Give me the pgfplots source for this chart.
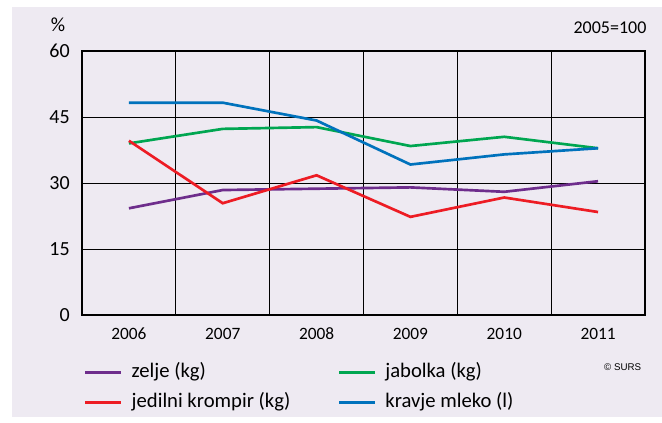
\documentclass[border=0pt]{standalone}
\usepackage{pgfplots}
\pgfplotsset{compat=1.18}
\usepackage{fontspec}
\setmainfont{Carlito}
\newfontfamily\arialf{Liberation Sans}
\definecolor{bgc}{RGB}{238,234,242}
\definecolor{czelje}{RGB}{110,45,140}
\definecolor{cjab}{RGB}{0,166,81}
\definecolor{ckrom}{RGB}{237,28,36}
\definecolor{cmleko}{RGB}{0,114,188}
\begin{document}
\begin{tikzpicture}
\path[use as bounding box, fill=white] (0pt,0pt) rectangle (496.5pt,317.25pt);
\fill[bgc] (9pt,4.5pt) rectangle (496.5pt,312pt);
\begin{axis}[
  at={(61.5pt,81pt)}, anchor=south west,
  scale only axis, width=422.25pt, height=198pt,
  xmin=2005.5, xmax=2011.5, ymin=0, ymax=60,
  xtick={2006,2007,2008,2009,2010,2011},
  ytick={0,15,30,45,60},
  minor xtick={2006.5,2007.5,2008.5,2009.5,2010.5},
  xminorgrids=true, ymajorgrids=true, xmajorgrids=false,
  major tick length=0pt, minor tick length=0pt,
  grid style={black, line width=0.7pt},
  minor grid style={black, line width=0.7pt},
  axis line style={line width=1pt},
  /pgf/number format/assume math mode=true,
  /pgf/number format/1000 sep={},
  xticklabel style={font=\fontsize{13}{15}\selectfont, inner sep=0pt, anchor=north, yshift=-9.4pt},
  yticklabel style={font=\fontsize{15}{17}\selectfont, inner sep=0pt, anchor=east, xshift=-9pt},
  legend columns=2,
  legend cell align=left,
  legend image code/.code={\draw[#1] (0pt,0pt) -- (27pt,0pt);},
  legend style={at={(0.0036,-0.18)}, anchor=north west, draw=none, fill=none,
    inner sep=0pt, outer sep=0pt, row sep=8pt,
    font=\fontsize{15.5}{17}\selectfont,
    nodes={inner sep=0pt, text height=11pt, text depth=3.5pt},
    /tikz/every odd column/.append style={column sep=6.75pt}},
  every axis plot/.append style={line width=2pt},
]
\addplot[czelje] coordinates {(2006,24.25) (2007,28.4) (2008,28.7) (2009,29.0) (2010,28.0) (2011,30.4)};
\addlegendentry{\makebox[154.5pt][l]{zelje (kg)}}
\addplot[cjab] coordinates {(2006,39.0) (2007,42.3) (2008,42.7) (2009,38.4) (2010,40.5) (2011,37.9)};
\addlegendentry{jabolka (kg)}
\addplot[ckrom] coordinates {(2006,39.6) (2007,25.4) (2008,31.75) (2009,22.3) (2010,26.7) (2011,23.4)};
\addlegendentry{\makebox[154.5pt][l]{jedilni krompir (kg)}}
\addplot[cmleko] coordinates {(2006,48.25) (2007,48.25) (2008,44.2) (2009,34.2) (2010,36.5) (2011,37.9)};
\addlegendentry{kravje mleko (l)}
\end{axis}
\node[font=\fontsize{15}{17}\selectfont] at (43.5pt,298.5pt) {\%};
\node[font=\fontsize{13.5}{15}\selectfont, anchor=east, inner sep=0pt] at (485pt,296.75pt) {2005=100};
\node[font=\arialf\fontsize{7.3}{9}\selectfont] at (467pt,42.25pt) {© SURS};
\end{tikzpicture}
\end{document}
